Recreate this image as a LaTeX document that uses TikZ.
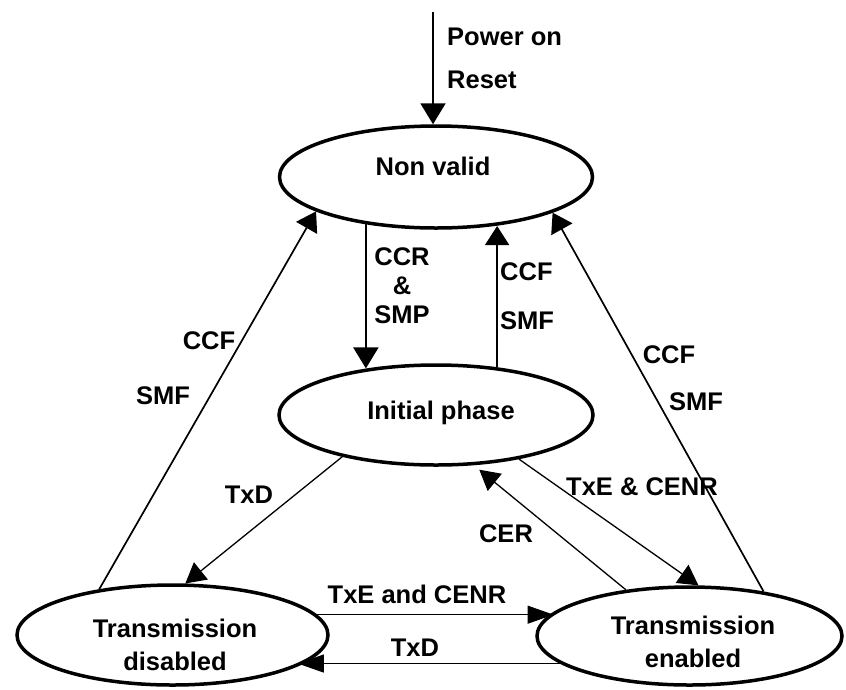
\documentclass[tikz,border=0pt]{standalone}
\usepackage{fontspec}
\setmainfont{Liberation Sans}
\usetikzlibrary{shapes.geometric,arrows.meta}
\begin{document}
\begin{tikzpicture}[x=1pt,y=-1pt,
  state/.style={ellipse, draw, line width=3.5pt, inner sep=0pt},
  lbl/.style={font=\fontsize{25.5}{29}\selectfont\bfseries, inner sep=0pt, align=center},
  statetext/.style={font=\fontsize{25.5}{33}\selectfont\bfseries, inner sep=0pt, align=center},
  arrA/.style={line width=2pt, -{Triangle[length=21pt,width=25pt]}},
  arrB/.style={line width=1.7pt, -{Triangle[length=19pt,width=24pt]}},
  arrC/.style={line width=1.3pt, -{Triangle[length=20pt,width=22pt]}},
  arrD/.style={line width=1.1pt, -{Triangle[length=26pt,width=18pt]}}
]
\useasboundingbox (0,0) rectangle (846,689);

% states
\node[state, minimum width=313pt, minimum height=102pt] (nv) at (436,177) {};
\node[state, minimum width=314pt, minimum height=100pt] (ip) at (436,415) {};
\node[state, minimum width=311pt, minimum height=100pt] (td) at (172.5,635) {};
\node[state, minimum width=305pt, minimum height=98pt] (te) at (689.5,636) {};

\node[statetext] (nvt) at (433,166) {Non valid};
\node[statetext] (ipt) at (441,413) {Initial phase};
\node[statetext] (tdt) at (175,645) {Transmission\\disabled};
\node[statetext] (tet) at (693,642) {Transmission\\enabled};

% power on
\coordinate (pw) at (433,12);
\draw[arrA] (pw) -- (pw |- nv.north);
\node[lbl, anchor=west] (lpow) at (447,37) {Power on};
\node[lbl, anchor=west] (lres) at (447,80) {Reset};

% non valid <-> initial phase
\draw[arrA] (nv.214.5) -- (nv.214.5 |- ip.146);
\node[lbl] (lccr) at (402,286) {CCR\\\&\\SMP};
\draw[arrB] (ip.38.6) -- (ip.38.6 |- nv.320.9);
\node[lbl, anchor=west] (lccf1) at (500,272) {CCF};
\node[lbl, anchor=west] (lsmf1) at (500,321) {SMF};

% long diagonals back to non valid
\draw[arrB] (td.148.9) -- (nv.196.3);
\node[lbl] (lccf2) at (209,341) {CCF};
\node[lbl] (lsmf2) at (163,396) {SMF};
\draw[arrB] (te.31.4) -- (nv.343.2);
\node[lbl] (lccf3) at (669,355) {CCF};
\node[lbl] (lsmf3) at (696,402) {SMF};

% initial phase <-> transmission states
\draw[arrC] (ip.204.1) -- (td.76.7);
\node[lbl] (ltxd1) at (249,495) {TxD};
\draw[arrC] (ip.332.2) -- (te.80.9);
\node[lbl] (ltxe1) at (642,487) {TxE \& CENR};
\draw[arrC, shorten >=7pt] (te.144.6) -- (ip.307.2);
\node[lbl] (lcer) at (506,534) {CER};

% horizontal arrows
\draw[arrD] (td.8.8) -- (td.8.8 -| te.170.5);
\node[lbl] (ltxe2) at (417,594) {TxE and CENR};
\draw[arrD] (te.192.9) -- (te.192.9 -| td.346.8);
\node[lbl] (ltxd2) at (415,648) {TxD};
\end{tikzpicture}
\end{document}
